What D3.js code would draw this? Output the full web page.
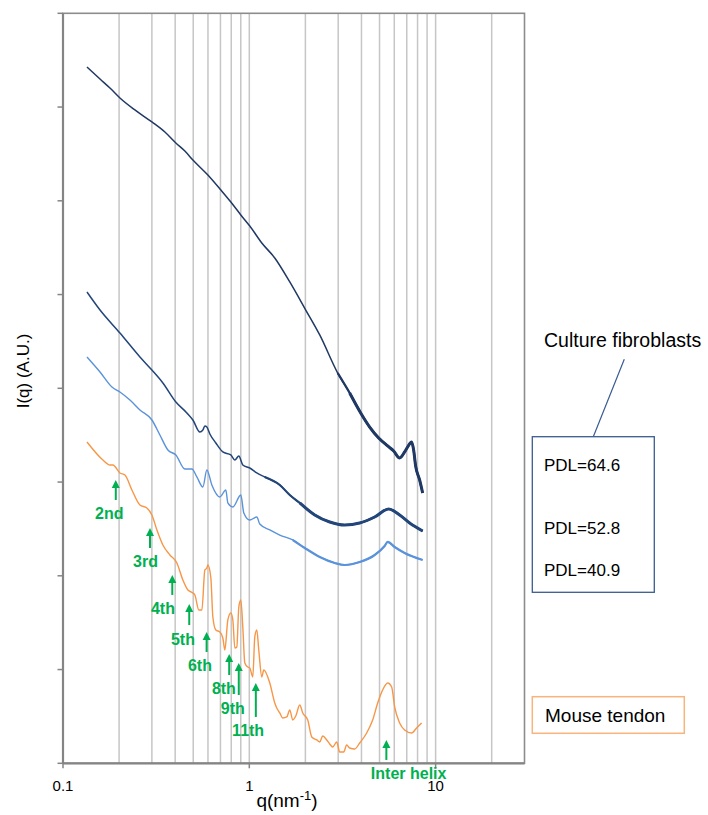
<!DOCTYPE html>
<html>
<head>
<meta charset="utf-8">
<script src="https://cdn.jsdelivr.net/npm/d3@7"></script>
<style>
  body { margin: 0; background: #fff; }
  svg text { font-family: "Liberation Sans", Arial, sans-serif; }
</style>
</head>
<body>
<svg id="chart" width="708" height="815"></svg>
<script>
// SAXS profiles: [q (nm^-1), log10 I (A.U.)]
const pdl646 = [
  [0.1345,7.427],[0.158,7.299],[0.1786,7.203],[0.2021,7.097],[0.2432,6.969],[0.300,6.841],[0.3523,6.734],
  [0.4035,6.617],[0.451,6.531],[0.498,6.435],[0.5992,6.275],[0.7036,6.115],[0.796,5.987],[0.9004,5.849],
  [1.006,5.731],[1.167,5.550],[1.37,5.390],[1.649,5.134],[2.009,4.835],[2.388,4.569],[2.982,4.163],
  [3.458,3.950],[3.962,3.737],[4.427,3.587],[4.948,3.470],[5.528,3.385],[5.955,3.331],[6.412,3.257],
  [6.82,3.321],[7.077,3.374],[7.436,3.427],[7.621,3.342],[7.813,3.171],[8.208,3.022],[8.519,2.883]
];
const pdl528 = [
  [0.1345,5.027],[0.158,4.835],[0.2021,4.590],[0.2588,4.334],[0.300,4.195],[0.3437,4.057],[0.4035,3.854],
  [0.4623,3.737],[0.498,3.662],[0.543,3.534],[0.5633,3.555],[0.5774,3.598],[0.5918,3.587],[0.6142,3.513],
  [0.6613,3.417],[0.7211,3.321],[0.796,3.289],[0.8362,3.235],[0.8784,3.278],[0.9228,3.182],[1.006,3.150],
  [1.097,3.097],[1.211,3.054],[1.457,2.969],[1.649,2.862],[1.866,2.777],[2.245,2.649],[2.702,2.574],
  [3.252,2.542],[3.913,2.563],[4.709,2.627],[5.598,2.713],[6.412,2.649],[7.255,2.563],[8.519,2.478]
];
const pdl409 = [
  [0.1345,4.334],[0.158,4.174],[0.1831,4.014],[0.2021,3.961],[0.2287,3.875],[0.2588,3.769],[0.300,3.662],
  [0.3312,3.502],[0.3656,3.342],[0.4035,3.289],[0.451,3.139],[0.4917,3.139],[0.5231,3.054],[0.5633,2.947],
  [0.5918,3.129],[0.6294,2.969],[0.6948,2.841],[0.7482,2.915],[0.767,2.777],[0.8158,2.734],[0.9004,2.862],
  [0.9344,2.670],[1.006,2.595],[1.097,2.627],[1.138,2.553],[1.288,2.489],[1.457,2.435],[1.711,2.382],
  [1.985,2.297],[2.388,2.201],[2.874,2.137],[3.252,2.115],[3.913,2.147],[4.709,2.222],[5.326,2.318],
  [5.528,2.361],[6.029,2.307],[6.82,2.243],[8.519,2.169]
];
const tendon = [
  [0.1345,3.427],[0.1638,3.235],[0.1786,3.182],[0.1854,3.182],[0.2021,3.097],[0.215,3.075],[0.2344,2.915],
  [0.2588,2.755],[0.282,2.723],[0.300,2.649],[0.3192,2.489],[0.3437,2.329],[0.3748,2.222],[0.4085,2.137],
  [0.4399,1.955],[0.468,1.849],[0.498,1.817],[0.5103,1.795],[0.5361,1.635],[0.5564,1.635],[0.5774,2.062],
  [0.5918,2.083],[0.5992,2.115],[0.6218,1.977],[0.6373,1.561],[0.6613,1.422],[0.6948,1.401],[0.7211,1.337],
  [0.7391,1.209],[0.767,1.529],[0.796,1.603],[0.8158,1.529],[0.8362,1.230],[0.857,1.241],[0.8784,1.667],
  [0.9004,1.742],[0.9228,1.454],[0.946,1.070],[0.9817,1.027],[1.006,1.017],[1.044,0.921],[1.07,1.347],
  [1.097,1.422],[1.124,1.209],[1.167,0.921],[1.196,0.995],[1.288,0.857],[1.37,0.643],[1.404,0.590],
  [1.457,0.537],[1.512,0.483],[1.589,0.494],[1.649,0.569],[1.711,0.462],[1.776,0.505],[1.866,0.622],
  [1.936,0.537],[2.059,0.462],[2.163,0.281],[2.301,0.249],[2.388,0.227],[2.478,0.291],[2.604,0.249],
  [2.702,0.206],[2.804,0.174],[2.946,0.227],[3.057,0.121],[3.212,0.121],[3.333,0.195],[3.458,0.163],
  [3.679,0.153],[3.913,0.217],[4.266,0.323],[4.594,0.462],[4.887,0.643],[5.196,0.782],[5.528,0.857],
  [5.809,0.814],[6.029,0.601],[6.412,0.430],[6.82,0.355],[7.436,0.323],[7.909,0.377],[8.414,0.430]
];

const xTicks = [0.1, 1, 10];
const xTickLabels = ["0.1", "1", "10"];
const xGrid = [0.2,0.3,0.4,0.5,0.6,0.7,0.8,0.9,1,2,3,4,5,6,7,8,9,10,20];
const yTicks = [1,1e1,1e2,1e3,1e4,1e5,1e6,1e7,1e8];

// collagen meridional orders marked on the tendon curve
const peakLabels = ["2nd","3rd","4th","5th","6th","8th","9th","11th","Inter helix"];
const peakQ = [0.192, 0.293, 0.386, 0.476, 0.59, 0.78, 0.878, 1.084, 5.44];
const peakTipLog = [3.022, 2.510, 2.009, 1.699, 1.401, 1.166, 1.070, 0.857, 0.249];

const pdlLabels = ["PDL=64.6", "PDL=52.8", "PDL=40.9"];

const svg = d3.select("#chart");
const plotL = 63, plotR = 524.5, plotT = 13.3, plotB = 763.3;

const x = d3.scaleLog().domain([0.1, 30]).range([plotL, plotR]);
const y = d3.scaleLog().domain([1, 1e8]).range([plotB, plotT]);

// gridlines
svg.append("g").selectAll("line")
  .data(xGrid).enter().append("line")
  .attr("x1", d => x(d)).attr("x2", d => x(d))
  .attr("y1", plotT).attr("y2", plotB)
  .attr("stroke", "#c6c6c6").attr("stroke-width", 1.5);

const line = d3.line()
  .curve(d3.curveMonotoneX)
  .x(d => x(d[0]))
  .y(d => y(Math.pow(10, d[1])));

const series = [
  {data: pdl646, color: "#1f3864", w: 1.5, bands: [[2.4, 2.2], [3.4, 3.0]]},
  {data: pdl528, color: "#22457a", w: 1.5, bands: [[1.1, 2.1], [1.8, 3.0]]},
  {data: pdl409, color: "#5a92db", w: 1.4, bands: [[1.6, 2.2]]},
  {data: tendon, color: "#f79646", w: 1.4, bands: []}
];

series.forEach(s => {
  svg.append("path")
    .attr("d", line(s.data))
    .attr("fill", "none")
    .attr("stroke", s.color)
    .attr("stroke-width", s.w)
    .attr("stroke-linejoin", "round");
  // high-q part is noisy in the original, drawn as a thicker band
  s.bands.forEach(b => {
    const noisy = s.data.filter(d => d[0] >= b[0]);
    svg.append("path")
      .attr("d", line(noisy))
      .attr("fill", "none")
      .attr("stroke", s.color)
      .attr("stroke-width", b[1])
      .attr("stroke-linejoin", "round");
  });
});

// plot frame
svg.append("rect")
  .attr("x", plotL).attr("y", plotT)
  .attr("width", plotR - plotL).attr("height", plotB - plotT)
  .attr("fill", "none").attr("stroke", "#8c8c8c").attr("stroke-width", 1.6);

svg.append("line").attr("x1", plotL).attr("x2", plotL).attr("y1", plotT).attr("y2", plotB)
  .attr("stroke", "#858585").attr("stroke-width", 2.2);
svg.append("line").attr("x1", plotL).attr("x2", plotR).attr("y1", plotB).attr("y2", plotB)
  .attr("stroke", "#858585").attr("stroke-width", 2.2);

// y ticks (no labels)
svg.append("g").selectAll("line")
  .data(yTicks).enter().append("line")
  .attr("x1", plotL - 5.5).attr("x2", plotL)
  .attr("y1", d => y(d)).attr("y2", d => y(d))
  .attr("stroke", "#858585").attr("stroke-width", 1.5);

// x ticks + labels
svg.append("g").selectAll("line")
  .data(xTicks).enter().append("line")
  .attr("x1", d => x(d)).attr("x2", d => x(d))
  .attr("y1", plotB).attr("y2", plotB + 5)
  .attr("stroke", "#858585").attr("stroke-width", 1.5);

svg.append("g").selectAll("text")
  .data(xTicks).enter().append("text")
  .attr("x", d => x(d))
  .attr("y", 791)
  .attr("text-anchor", "middle")
  .style("font-size", "15px")
  .attr("fill", "#000")
  .text((d, i) => xTickLabels[i]);

// axis titles
const xt = svg.append("text")
  .attr("x", 287).attr("y", 807)
  .attr("text-anchor", "middle")
  .style("font-size", "19px");
xt.append("tspan").text("q(nm");
xt.append("tspan").attr("dy", -7).style("font-size", "13px").text("-1");
xt.append("tspan").attr("dy", 7).text(")");

svg.append("text")
  .attr("transform", "translate(29,371) rotate(-90)")
  .attr("text-anchor", "middle")
  .style("font-size", "17px")
  .text("I(q) (A.U.)");

// peak arrows
const arrowLen = [20, 20, 20, 21, 20, 21, 32, 34, 20];
const labelDx = [-6.5, -4.5, -9.3, -6.3, -6.7, -5.3, -6, -7.7, 22.3];
const green = "#00b050";
const ann = svg.append("g");
peakQ.forEach((q, i) => {
  const ax = x(q), ty = y(Math.pow(10, peakTipLog[i]));
  ann.append("line")
    .attr("x1", ax).attr("x2", ax)
    .attr("y1", ty + 6).attr("y2", ty + arrowLen[i])
    .attr("stroke", green).attr("stroke-width", 2);
  ann.append("path")
    .attr("d", `M${ax},${ty} L${ax - 4},${ty + 8} L${ax + 4},${ty + 8} Z`)
    .attr("fill", green);
  ann.append("text")
    .attr("x", ax + labelDx[i])
    .attr("y", ty + arrowLen[i] + 19.5)
    .attr("text-anchor", "middle")
    .style("font-size", "16px")
    .style("font-weight", "bold")
    .attr("fill", green)
    .text(peakLabels[i]);
});

// legend: culture fibroblasts
svg.append("text")
  .attr("x", 544).attr("y", 347)
  .style("font-size", "19.5px")
  .text("Culture fibroblasts");
svg.append("line")
  .attr("x1", 624.3).attr("y1", 359.3)
  .attr("x2", 593.3).attr("y2", 436.7)
  .attr("stroke", "#3a5c91").attr("stroke-width", 1.2);
svg.append("rect")
  .attr("x", 532.3).attr("y", 436.7)
  .attr("width", 122).attr("height", 155.6)
  .attr("fill", "#fff")
  .attr("stroke", "#3a5c91").attr("stroke-width", 1.3);
const pdlY = [471, 533.5, 576];
svg.append("g").selectAll("text")
  .data(pdlLabels).enter().append("text")
  .attr("x", 544)
  .attr("y", (d, i) => pdlY[i])
  .style("font-size", "17px")
  .text(d => d);

// legend: mouse tendon
svg.append("rect")
  .attr("x", 532.3).attr("y", 696.7)
  .attr("width", 152).attr("height", 36.6)
  .attr("fill", "#fff")
  .attr("stroke", "#f8b47c").attr("stroke-width", 1.5);
svg.append("text")
  .attr("x", 545).attr("y", 722)
  .style("font-size", "19px")
  .text("Mouse tendon");
</script>
</body>
</html>
